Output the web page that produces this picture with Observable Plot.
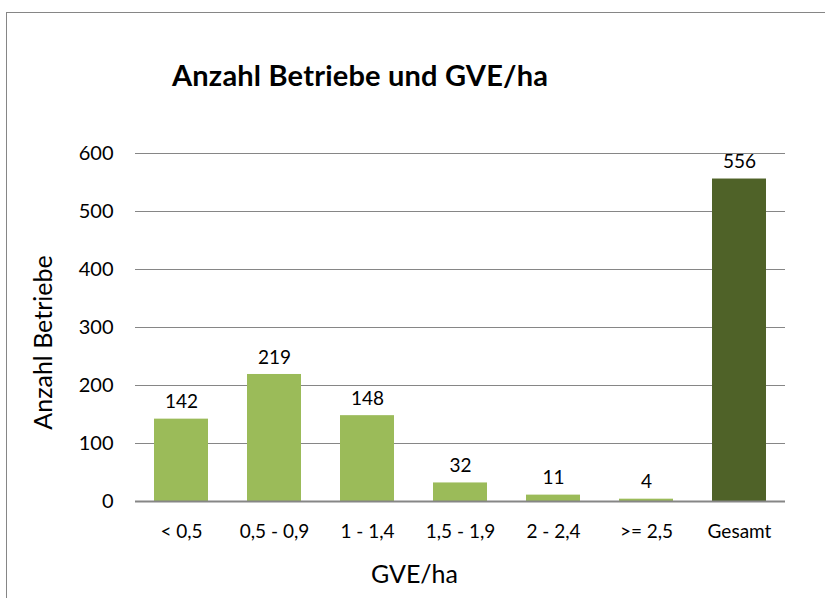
<!DOCTYPE html>
<html>
<head>
<meta charset="utf-8">
<script src="https://cdn.jsdelivr.net/npm/d3@7"></script>
<script src="https://cdn.jsdelivr.net/npm/@observablehq/plot@0.6"></script>
<style>
  html, body { margin: 0; padding: 0; background: #fff; }
  #wrap { position: relative; width: 825px; height: 598px; overflow: hidden; font-family: Lato, "Open Sans", sans-serif; }
  #frame { position: absolute; left: 6px; top: 12px; width: 900px; height: 700px; border: 1.5px solid #868686; box-sizing: border-box; pointer-events: none; }
  #title { position: absolute; left: 172px; top: 57px; font-size: 29px; line-height: 36px; font-weight: bold; color: #000; letter-spacing: 0.2px; white-space: nowrap; }
  #chart { position: absolute; left: 0; top: 0; }
</style>
</head>
<body>
<div id="wrap">
  <div id="chart"></div>
  <div id="frame"></div>
  <div id="title">Anzahl Betriebe und GVE/ha</div>
</div>
<script>
const categories = ["< 0,5", "0,5 - 0,9", "1 - 1,4", "1,5 - 1,9", "2 - 2,4", ">= 2,5", "Gesamt"];
const values = [142, 219, 148, 32, 11, 4, 556];
const barColors = ["#9BBB59", "#9BBB59", "#9BBB59", "#9BBB59", "#9BBB59", "#9BBB59", "#4F6228"];
const yTicks = [0, 100, 200, 300, 400, 500, 600];
const yLabel = "Anzahl Betriebe";
const xLabel = "GVE/ha";

const data = categories.map((c, i) => ({cat: c, value: values[i], color: barColors[i]}));

const chart = Plot.plot({
  width: 825,
  height: 598,
  marginLeft: 135,
  marginRight: 40,
  marginTop: 153,
  marginBottom: 97,
  style: {fontFamily: "Lato, 'Open Sans', sans-serif", background: "transparent"},
  x: {domain: categories, paddingInner: 0.42, paddingOuter: 0.19, label: null},
  y: {domain: [0, 600], ticks: yTicks, label: null},
  marks: [
    Plot.gridY(yTicks, {stroke: "#868686", strokeOpacity: 1, strokeWidth: 1}),
    Plot.ruleX([0], {frameAnchor: "left", stroke: "#868686", strokeWidth: 1}),
    Plot.barY(data, {x: "cat", y: "value", fill: "color"}),
    Plot.ruleY([0], {stroke: "#868686", strokeWidth: 2}),
    Plot.text(data, {x: "cat", y: "value", text: d => String(d.value), dy: -17, fontSize: 19, fill: "#000"}),
    Plot.axisY(yTicks, {tickSize: 0, tickPadding: 22, fontSize: 20, fill: "#000", label: null}),
    Plot.axisX({tickSize: 0, tickPadding: 23, fontSize: 19, fill: "#000", label: null}),
    Plot.text([yLabel], {frameAnchor: "left", textAnchor: "middle", dx: -92, dy: 15, rotate: -90, fontSize: 25, fill: "#000"}),
    Plot.text([xLabel], {frameAnchor: "bottom", dx: -46, dy: 81, fontSize: 25, fill: "#000"})
  ]
});
document.getElementById("chart").appendChild(chart);
</script>
</body>
</html>
